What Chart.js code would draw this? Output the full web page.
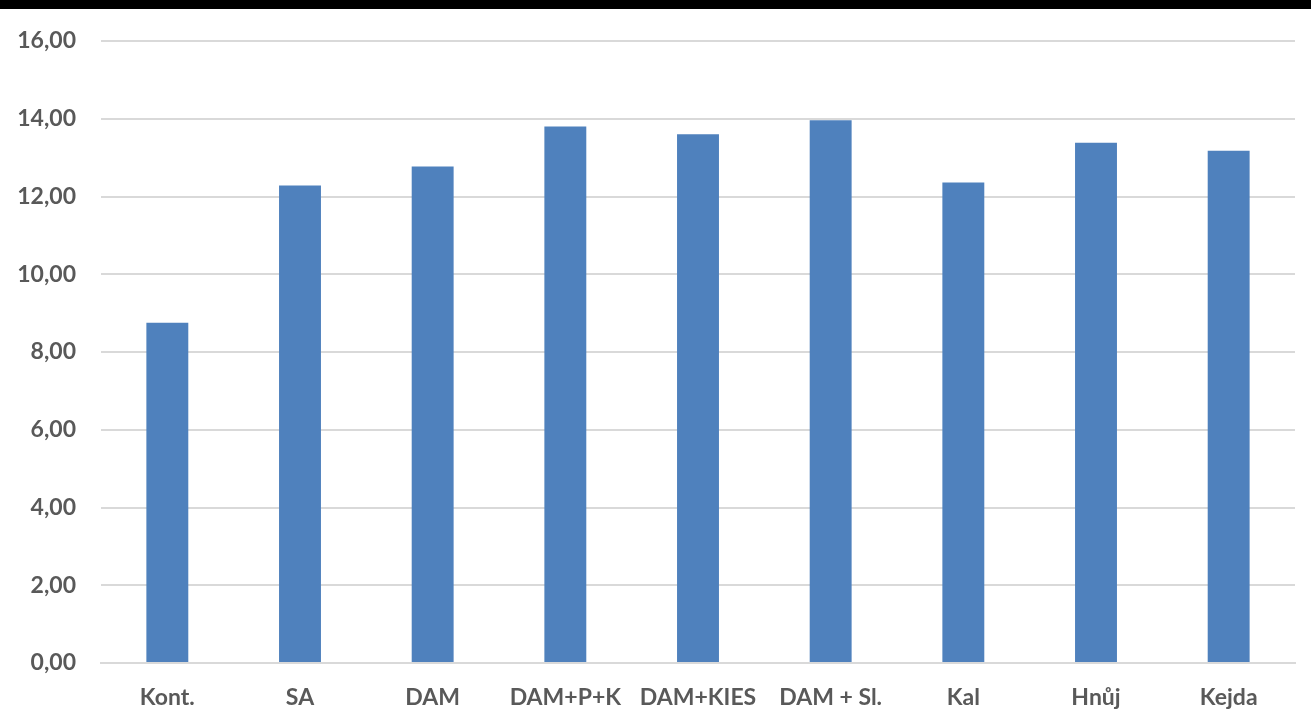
<!DOCTYPE html>
<html>
<head>
<meta charset="utf-8">
<script src="https://cdn.jsdelivr.net/npm/chart.js@4/dist/chart.umd.min.js"></script>
<style>
  html, body { margin: 0; padding: 0; background: #ffffff; }
  #frame { width: 1311px; height: 721px; position: relative; overflow: hidden; }
  #topbar { position: absolute; left: 0; top: 0; width: 1311px; height: 9px; background: #000000; }
  #wrap { position: absolute; left: 0; top: 9px; width: 1311px; height: 712px; }
</style>
</head>
<body>
<div id="frame">
  <div id="topbar"></div>
  <div id="wrap"><canvas id="chart" width="1311" height="712"></canvas></div>
</div>
<script>
// Treatments and their measured values
const categories = ['Kont.', 'SA', 'DAM', 'DAM+P+K', 'DAM+KIES', 'DAM + Sl.', 'Kal', 'Hnůj', 'Kejda'];
const values = [8.75, 12.28, 12.77, 13.80, 13.60, 13.96, 12.36, 13.38, 13.18];
// Value axis range
const yMin = 0;
const yMax = 16;
const yStep = 2;

const labelFont = { family: 'Lato, "Open Sans", sans-serif', size: 23, weight: 'bold' };
const labelColor = '#595959';
const gridColor = '#D9D9D9';

new Chart(document.getElementById('chart'), {
  type: 'bar',
  data: {
    labels: categories,
    datasets: [{
      data: values,
      backgroundColor: '#4F81BD',
      borderWidth: 0,
      categoryPercentage: 1.0,
      barPercentage: 0.316
    }]
  },
  options: {
    responsive: false,
    animation: false,
    layout: { padding: { top: 32, right: 16, left: 0, bottom: 0 } },
    plugins: { legend: { display: false }, tooltip: { enabled: false } },
    scales: {
      x: {
        grid: { display: false, drawTicks: false },
        border: { display: true, color: gridColor, width: 2 },
        ticks: { color: labelColor, font: labelFont, padding: 21, maxRotation: 0, autoSkip: false },
        afterFit: s => { s.height = 58; s.paddingLeft = 0; s.paddingRight = 0; }
      },
      y: {
        min: yMin,
        max: yMax,
        ticks: {
          stepSize: yStep,
          color: labelColor,
          font: labelFont,
          padding: 25,
          callback: v => v.toFixed(2).replace('.', ',')
        },
        grid: { color: gridColor, lineWidth: 2, drawTicks: false },
        border: { display: false },
        afterFit: s => { s.width = 101; s.paddingTop = 0; s.paddingBottom = 0; }
      }
    }
  }
});
</script>
</body>
</html>
